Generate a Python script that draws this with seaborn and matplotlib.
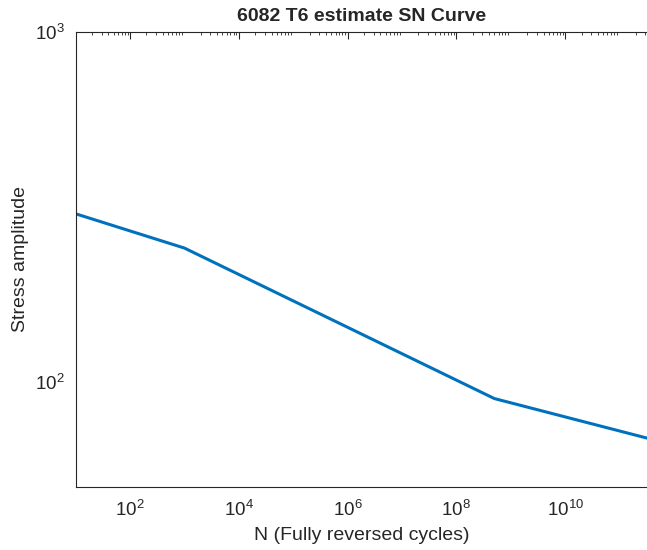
import numpy as np
import pandas as pd
import matplotlib
matplotlib.use("Agg")
import matplotlib.pyplot as plt
import seaborn as sns
from matplotlib.ticker import LogLocator, NullFormatter

# S-N curve points
cycles = [1e1, 1e3, 5e8, 3.2e11]
stress = [302, 241, 89.5, 69]

df = pd.DataFrame({"N": cycles, "S": stress})

sns.set_style("white")
plt.rcParams['font.family'] = ['Liberation Sans', 'DejaVu Sans']
plt.rcParams['mathtext.fontset'] = 'custom'
plt.rcParams['mathtext.rm'] = 'Liberation Sans'
plt.rcParams['mathtext.it'] = 'Liberation Sans'

fig = plt.figure(figsize=(6.47, 5.5), dpi=100)
ax = fig.add_axes([0.117, 0.1145, 0.883, 0.8275])

sns.lineplot(data=df, x="N", y="S", ax=ax, color="#0072BD", linewidth=2.2)

ax.set_xscale("log")
ax.set_yscale("log")
ax.set_xlim(10, 3.2e11)
ax.set_ylim(50, 1000)

ax.xaxis.set_major_locator(plt.FixedLocator([1e2, 1e4, 1e6, 1e8, 1e10]))
ax.xaxis.set_minor_locator(LogLocator(base=10, subs=np.arange(2, 10), numticks=30))
ax.xaxis.set_minor_formatter(NullFormatter())
ax.yaxis.set_major_locator(plt.FixedLocator([1e2, 1e3]))
ax.yaxis.set_minor_locator(LogLocator(base=10, subs=np.arange(2, 10), numticks=30))
ax.yaxis.set_minor_formatter(NullFormatter())

ax.tick_params(which="both", direction="in", top=True, right=False,
               colors="#262626", labelsize=13.5)
ax.tick_params(axis="x", which="major", pad=9)
ax.tick_params(axis="y", which="major", pad=8)
ax.tick_params(which="major", length=5, width=0.8)
ax.tick_params(which="minor", length=2.5, width=0.6)
for side in ["left", "bottom", "top"]:
    ax.spines[side].set_color("#262626")
    ax.spines[side].set_linewidth(0.8)
ax.spines["right"].set_visible(False)

ax.set_title("6082 T6 estimate SN Curve", fontsize=14, fontweight="bold", pad=8)
ax.set_xlabel("N (Fully reversed cycles)", fontsize=14, color="#262626", labelpad=5)
ax.set_ylabel("Stress amplitude", fontsize=14, color="#262626", labelpad=4)

fig.savefig("out.png", dpi=100)
